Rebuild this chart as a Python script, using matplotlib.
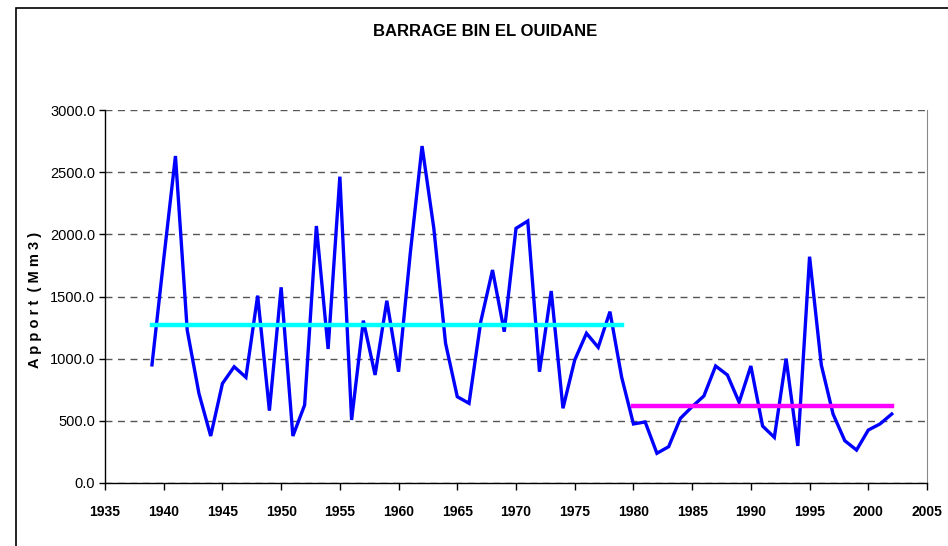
import numpy as np
import matplotlib
matplotlib.use("Agg")
import matplotlib.pyplot as plt
from matplotlib.patches import Rectangle
from matplotlib.ticker import FormatStrFormatter, MultipleLocator

plt.rcParams["font.family"] = ["Liberation Sans", "DejaVu Sans"]

# annual inflow (Mm3)
years = list(range(1939, 2003))
apport = [950, 1800, 2630, 1230, 720, 378, 800, 935, 850, 1507,
          582, 1574, 378, 627, 2067, 1078, 2464, 507, 1306, 869,
          1466, 895, 1850, 2710, 2050, 1124, 694, 641, 1298, 1713,
          1217, 2048, 2107, 895, 1544, 601, 989, 1204, 1091, 1378,
          850, 475, 491, 239, 292, 520, 614, 700, 941, 869,
          649, 941, 458, 367, 1000, 298, 1820, 949, 555, 340,
          265, 426, 475, 555]

# period means
mean1_years = [1939, 1979]
mean1 = [1273, 1273]
mean2_years = [1980, 2002]
mean2 = [622, 622]

fig = plt.figure(figsize=(9.48, 5.46), dpi=100)
ax = fig.add_axes([105 / 948, 1 - 483 / 546, 822 / 948, 373 / 546])

ax.plot(years, apport, color="#0000ff", lw=2.4, solid_joinstyle="miter", zorder=3)
ax.plot(mean1_years, mean1, color="#00ffff", lw=3.2, zorder=4)
ax.plot(mean2_years, mean2, color="#ff00ff", lw=3.2, zorder=4)

ax.set_xlim(1935, 2005)
ax.set_ylim(0, 3000)
ax.xaxis.set_major_locator(MultipleLocator(5))
ax.yaxis.set_major_locator(MultipleLocator(500))
ax.yaxis.set_major_formatter(FormatStrFormatter("%.1f"))
ax.grid(axis="y", color="#555555", ls=(0, (5, 4)), lw=1.0, zorder=1)

for s in ("left", "bottom"):
    ax.spines[s].set_color("black")
    ax.spines[s].set_linewidth(1.0)
ax.spines["top"].set_visible(False)
ax.spines["right"].set_color("#888888")

ax.tick_params(axis="x", direction="out", length=5, width=1, pad=11,
               labelsize=10)
ax.tick_params(axis="y", direction="out", length=4, width=1, pad=3,
               labelsize=10.5)
for lab in ax.get_xticklabels():
    lab.set_fontweight("bold")

ax.set_ylabel("A p p o r t  ( M m 3 )", fontsize=10.5, fontweight="bold")
ax.yaxis.set_label_coords((42 - 105) / 822, 0.49)
fig.text(485 / 948, 1 - 31 / 546, "BARRAGE BIN EL OUIDANE", ha="center", va="center",
         fontsize=12, fontweight="bold")

# chart-area border (cropped on right and bottom)
fig.patches.append(Rectangle((16 / 948, -0.05), 1.0, 1 - 8 / 546 + 0.05,
                             transform=fig.transFigure, fill=False,
                             edgecolor="black", lw=1.2))

fig.savefig("out.png", dpi=100)
